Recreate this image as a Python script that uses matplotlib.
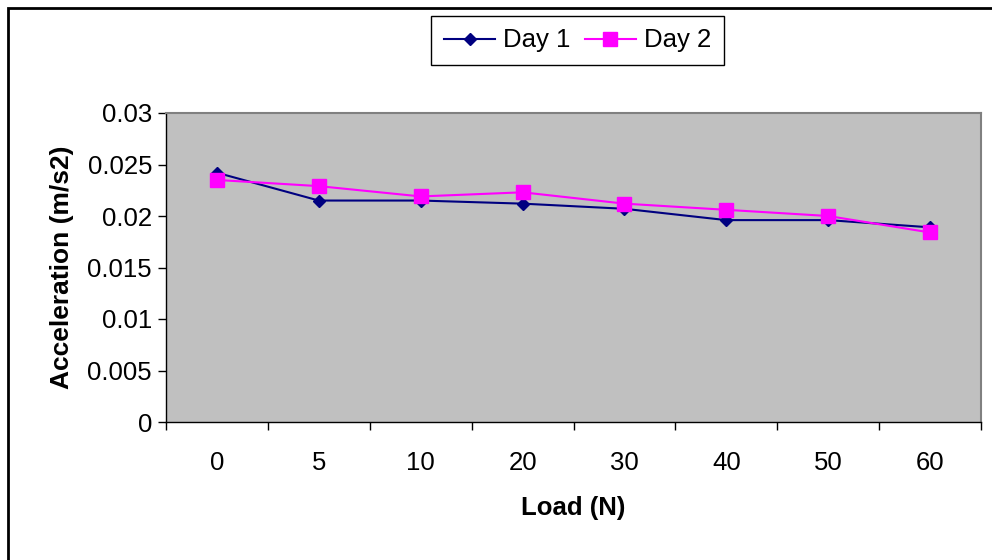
import matplotlib.pyplot as plt
import matplotlib as mpl
from matplotlib.patches import Rectangle

# data
loads = ['0', '5', '10', '20', '30', '40', '50', '60']
day1 = [0.0242, 0.0215, 0.0215, 0.0212, 0.0207, 0.0196, 0.0196, 0.0189]
day2 = [0.0235, 0.0229, 0.0219, 0.0223, 0.0212, 0.0206, 0.0200, 0.0184]
yticks = [0, 0.005, 0.01, 0.015, 0.02, 0.025, 0.03]
ytick_labels = ['0', '0.005', '0.01', '0.015', '0.02', '0.025', '0.03']

mpl.rcParams['font.family'] = ['Liberation Sans', 'DejaVu Sans']
mpl.rcParams['font.size'] = 18.5

W, H = 992, 560
fig = plt.figure(figsize=(W / 100, H / 100), dpi=100)
ax = fig.add_axes([166 / W, 1 - 422 / H, 815 / W, 309 / H])
ax.set_facecolor('#c0c0c0')

x = list(range(len(loads)))
ax.plot(x, day1, color='#000080', lw=1.5, marker='D', ms=6.6, label='Day 1', zorder=3)
ax.plot(x, day2, color='#ff00ff', lw=1.5, marker='s', ms=9.4, label='Day 2', zorder=4)

ax.set_xlim(-0.5, len(loads) - 0.5)
ax.set_ylim(0, 0.03)
ax.set_yticks(yticks)
ax.set_yticklabels(ytick_labels)
ax.set_xticks(x)
ax.set_xticklabels(loads)
ax.set_xticks([i - 0.5 for i in range(len(loads) + 1)], minor=True)
ax.tick_params(axis='x', which='major', length=0, pad=21)
ax.tick_params(axis='x', which='minor', length=6, width=1, direction='out')
ax.tick_params(axis='y', length=6, width=1, direction='out', pad=4)

for s in ['left', 'bottom']:
    ax.spines[s].set_color('black')
    ax.spines[s].set_linewidth(1)
for s in ['top', 'right']:
    ax.spines[s].set_color('#808080')
    ax.spines[s].set_linewidth(1.5)

ax.set_xlabel('Load (N)', fontweight='bold', labelpad=15)
ax.set_ylabel('Acceleration (m/s2)', fontweight='bold', fontsize=19, labelpad=10)

leg = fig.legend(loc='center', bbox_to_anchor=(577.5 / W, 1 - 40.5 / H), ncol=2,
                 handlelength=2.0, handletextpad=0.3, columnspacing=0.55,
                 fancybox=False, framealpha=1, edgecolor='black',
                 borderpad=0.5, borderaxespad=0)
leg.get_frame().set_linewidth(1)

# chart area border (runs off the right and bottom edges)
fig.patches.append(Rectangle((8 / W, -0.1), 1.2, 1.1 - 8 / H,
                             transform=fig.transFigure, fill=False,
                             edgecolor='black', lw=2))

fig.savefig('out.png', dpi=100)
